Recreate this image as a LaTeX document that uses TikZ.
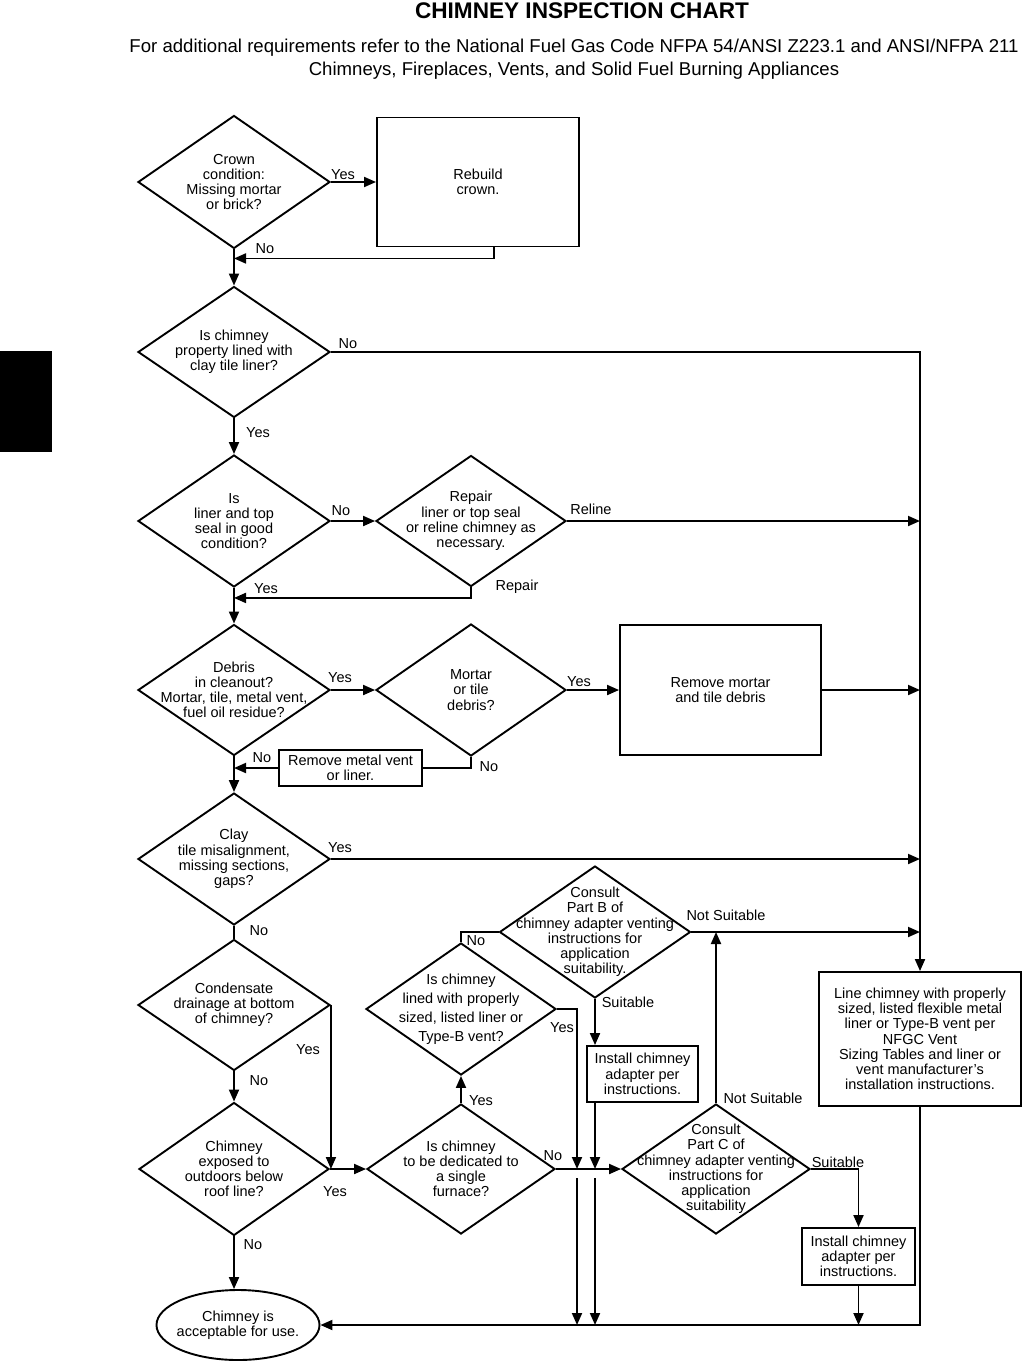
\documentclass[tikz,border=0pt]{standalone}
\usepackage{fontspec}
\setmainfont{Liberation Sans}
\usetikzlibrary{positioning,shapes.geometric,arrows.meta}
\newcommand{\chart}{\fontsize{14.5}{15.2}\selectfont}
\tikzset{
  dia/.style={diamond, draw, inner sep=-40pt, align=center, minimum width=190, minimum height=132},
  box/.style={rectangle, draw, inner sep=1pt, align=center},
  arr/.style={-{Triangle[length=12pt,width=10pt]}},
  lbl/.style={inner sep=0pt}
}

\begin{document}
\begin{tikzpicture}[x=1pt,y=-1pt,line width=1.9pt,every node/.style={font=\chart}]
\useasboundingbox (0,0) rectangle (1025,1365);
\fill (0,351) rectangle (52,452);

\node[lbl,font=\bfseries\fontsize{22.6}{24}\selectfont] (title) at (582,11) {CHIMNEY INSPECTION CHART};
\node[lbl,align=center,font=\fontsize{18.6}{23}\selectfont] (sub) at (574,59.5)
  {For additional requirements refer to the National Fuel Gas Code NFPA 54/ANSI Z223.1 and ANSI/NFPA 211\\
   Chimneys, Fireplaces, Vents, and Solid Fuel Burning Appliances};

\node[dia, minimum width=192, minimum height=133] (crown) at (234,182) {Crown\\condition:\\Missing mortar\\or brick?};
\node[box, minimum width=202, minimum height=129] (rebuild) at (478,182) {Rebuild\\crown.};
\node[dia, minimum width=192, minimum height=131] (lined) at (234,352) {Is chimney\\property lined with\\clay tile liner?};
\node[dia, minimum width=192] (seal) at (234,521) {Is\\liner and top\\seal in good\\condition?};
\node[dia, minimum height=131] (repair) at (471,521) {Repair\\liner or top seal\\or reline chimney as\\necessary.};
\node[dia, minimum width=192, minimum height=131] (debris) at (234,690) {Debris\\in cleanout?\\Mortar, tile, metal vent,\\fuel oil residue?};
\node[dia] (mortar) at (471,690) {Mortar\\or tile\\debris?};
\node[box, minimum width=201, minimum height=130] (removemortar) at (720.5,690) {Remove mortar\\and tile debris};
\node[box, minimum width=143, minimum height=36] (removevent) at (350.5,768) {Remove metal vent\\or liner.};
\node[dia, minimum width=192] (clay) at (234,859) {Clay\\tile misalignment,\\missing sections,\\gaps?};
\node[dia, minimum width=192, minimum height=131] (condensate) at (234,1005) {Condensate\\drainage at bottom\\of chimney?};
\node[dia, minimum height=133] (exposed) at (234,1169) {Chimney\\exposed to\\outdoors below\\roof line?};
\node[dia, minimum width=188, minimum height=130] (dedicated) at (461,1169) {Is chimney\\to be dedicated to\\a single\\furnace?};
\node[dia, font=\fontsize{14.5}{19}\selectfont] (typeb) at (461,1009) {Is chimney\\lined with properly\\sized, listed liner or\\Type-B vent?};
\node[dia, minimum width=191] (partb) at (595,932) {Consult\\Part B of\\chimney adapter venting\\instructions for\\application\\suitability.};
\node[box, minimum width=111, minimum height=56] (installb) at (642.5,1074) {Install chimney\\adapter per\\instructions.};
\node[dia, minimum width=188, minimum height=130] (partc) at (716,1169) {Consult\\Part C of\\chimney adapter venting\\instructions for\\application\\suitability};
\node[box, minimum width=202, minimum height=134] (linechim) at (920,1039) {Line chimney with properly\\sized, listed flexible metal\\liner or Type-B vent per\\NFGC Vent\\Sizing Tables and liner or\\vent manufacturer’s\\installation instructions.};
\node[box, minimum width=113, minimum height=57] (installc) at (858.5,1256.5) {Install chimney\\adapter per\\instructions.};
\node[ellipse, draw, inner sep=-20pt, align=center, minimum width=163, minimum height=70] (accept) at (238,1325) {Chimney is\\acceptable for use.};

\coordinate (ja) at (577,1169);
\coordinate (jb) at (partb.south |- ja);

\draw[arr] (crown.east) -- (rebuild.west);
\draw[arr] ([xshift=16pt]rebuild.south) |- ([yshift=-9pt]crown.south);
\draw[arr] (crown.south) -- (lined.north);
\draw[arr] (lined.east) -| (linechim.north);
\draw[arr] (lined.south) -- (seal.north);
\draw[arr] (seal.east) -- (repair.west);
\draw[arr] (repair.east) -- (repair.east -| linechim.north);
\draw[arr] (repair.south) |- ([yshift=-10pt]seal.south);
\draw[arr] (seal.south) -- (debris.north);
\draw[arr] (debris.east) -- (mortar.west);
\draw[arr] (mortar.east) -- (removemortar.west);
\draw[arr] (removemortar.east) -- (removemortar.east -| linechim.north);
\draw (mortar.south) |- (removevent.east);
\draw[arr] (removevent.west) -- (removevent.west -| debris.south);
\draw[arr] (debris.south) -- (clay.north);
\draw[arr] (clay.east) -- (clay.east -| linechim.north);
\draw (clay.south) -- (condensate.north);
\draw[arr] (condensate.east) -- (condensate.east |- exposed.east);
\draw[arr] (condensate.south) -- (exposed.north);
\draw[arr] (exposed.east) -- (dedicated.west);
\draw[arr] (exposed.south) -- (exposed.south |- accept.north);
\draw[arr] (dedicated.north) -- (typeb.south);
\draw (typeb.north) |- (partb.west);
\draw[arr] (typeb.east) -| (ja);
\draw[arr] (partb.south) -- (partb.south |- installb.north);
\draw[arr] (partb.south |- installb.south) -- (jb);
\draw[arr] (dedicated.east) -- (partc.west);
\draw[arr] (partb.east) -- (partb.east -| linechim.north);
\draw[arr] (partc.north) -- (partc.north |- partb.east);
\draw[arr] (partc.east) -| (installc.north);
\draw[arr] (installc.south) -- (installc.south |- accept.east);
\draw[arr] (linechim.south) |- (accept.east);
\draw[arr] ([yshift=-9pt]ja) -- (ja |- accept.east);
\draw[arr] ([yshift=-9pt]jb) -- (jb |- accept.east);

\node[lbl] (y1) at (343,175) {Yes};
\node[lbl] (n1) at (265,249) {No};
\node[lbl] (n2) at (348,344) {No};
\node[lbl] (y2) at (258,433) {Yes};
\node[lbl] (n3) at (341,511) {No};
\node[lbl] (reline) at (591,509) {Reline};
\node[lbl] (rep) at (517,587) {Repair};
\node[lbl] (y3) at (266,589) {Yes};
\node[lbl] (y4) at (340,678) {Yes};
\node[lbl] (y5) at (579,682) {Yes};
\node[lbl] (n4) at (262,758) {No};
\node[lbl] (n5) at (489,767) {No};
\node[lbl] (y6) at (340,848) {Yes};
\node[lbl] (n6) at (259,931) {No};
\node[lbl] (y7) at (308,1050) {Yes};
\node[lbl] (n7) at (259,1081) {No};
\node[lbl] (y8) at (335,1192) {Yes};
\node[lbl] (n8) at (253,1245) {No};
\node[lbl] (y9) at (481,1101) {Yes};
\node[lbl] (n9) at (476,941) {No};
\node[lbl] (y10) at (562,1028) {Yes};
\node[lbl] (nsb) at (726,915) {Not Suitable};
\node[lbl] (sb) at (628,1002) {Suitable};
\node[lbl] (n10) at (553,1156) {No};
\node[lbl] (nsc) at (763,1098) {Not Suitable};
\node[lbl] (sc) at (838,1162) {Suitable};
\end{tikzpicture}
\end{document}
